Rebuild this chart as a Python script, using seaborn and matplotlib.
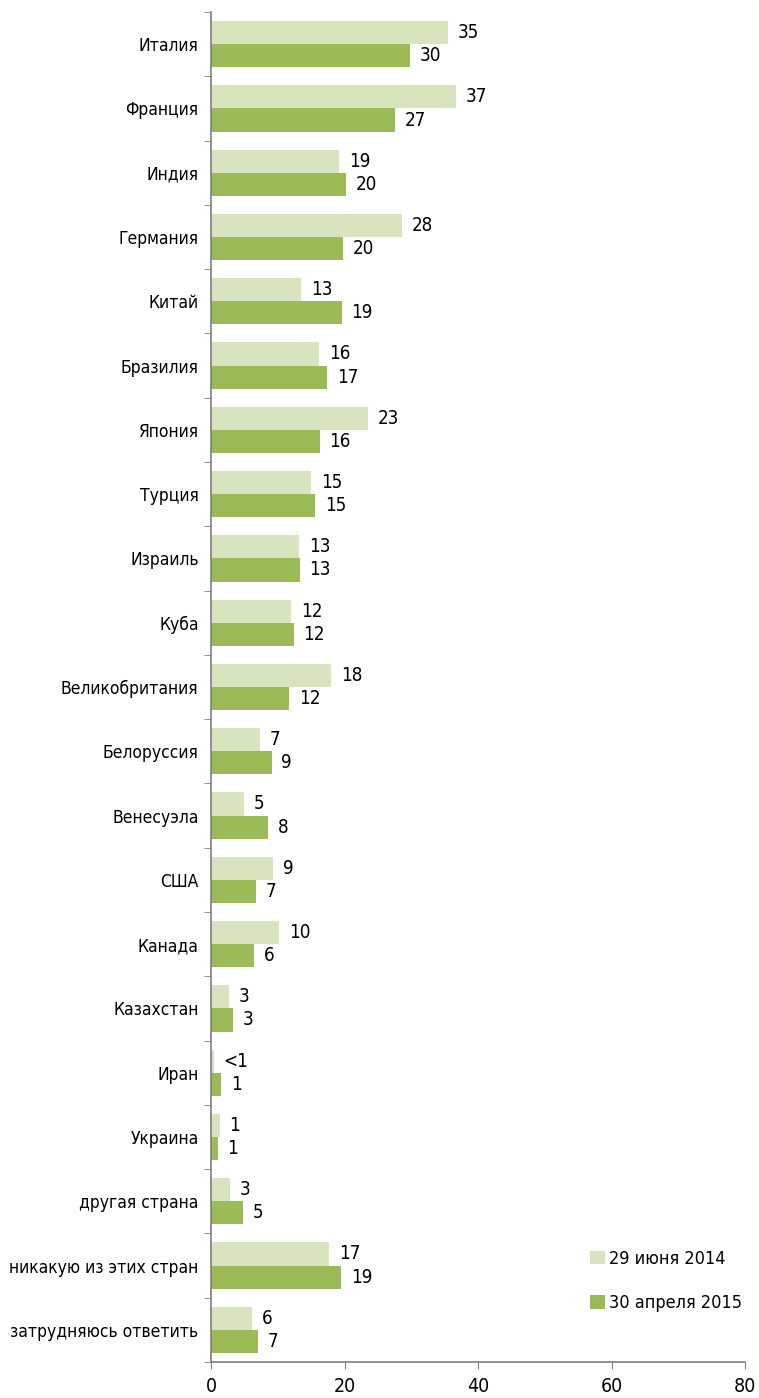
import numpy as np
import pandas as pd
import matplotlib
matplotlib.use('Agg')
import matplotlib.pyplot as plt
import seaborn as sns

countries = ['Италия', 'Франция', 'Индия', 'Германия', 'Китай', 'Бразилия', 'Япония',
             'Турция', 'Израиль', 'Куба', 'Великобритания', 'Белоруссия', 'Венесуэла',
             'США', 'Канада', 'Казахстан', 'Иран', 'Украина', 'другая страна',
             'никакую из этих стран', 'затрудняюсь ответить']
v2014 = [35.5, 36.7, 19.2, 28.6, 13.5, 16.2, 23.5, 15.0, 13.2, 12.0, 18.0,
         7.3, 4.9, 9.3, 10.2, 2.7, 0.4, 1.3, 2.8, 17.7, 6.1]
v2015 = [29.8, 27.6, 20.2, 19.8, 19.6, 17.4, 16.3, 15.6, 13.3, 12.4, 11.7,
         9.1, 8.5, 6.7, 6.4, 3.3, 1.5, 1.0, 4.8, 19.5, 7.0]
lab2014 = ['35', '37', '19', '28', '13', '16', '23', '15', '13', '12', '18',
           '7', '5', '9', '10', '3', '<1', '1', '3', '17', '6']
lab2015 = ['30', '27', '20', '20', '19', '17', '16', '15', '13', '12', '12',
           '9', '8', '7', '6', '3', '1', '1', '5', '19', '7']
series = ['29 июня 2014', '30 апреля 2015']

df = pd.DataFrame({'страна': countries * 2,
                   'значение': v2014 + v2015,
                   'дата': [series[0]] * len(countries) + [series[1]] * len(countries)})

sns.set_style('white')
plt.rcParams['font.family'] = ['DejaVu Sans']
plt.rcParams['font.stretch'] = 'condensed'
plt.rcParams['text.color'] = 'black'
plt.rcParams['xtick.color'] = 'black'
plt.rcParams['ytick.color'] = 'black'

fig = plt.figure(figsize=(7.59, 13.98), dpi=100)
ax = fig.add_axes([0.278, 0.0258, 0.7036, 0.9656])

sns.barplot(data=df, y='страна', x='значение', hue='дата', orient='h',
            palette=['#d7e4bd', '#9bbb59'], width=0.72, saturation=1,
            linewidth=0, ax=ax)

for cont, labs in zip(ax.containers, [lab2014, lab2015]):
    ax.bar_label(cont, labels=labs, padding=7, fontsize=13.5)

ax.set_xlim(0, 80)
ax.set_ylim(len(countries) - 0.5, -0.5)
ax.set_xticks([0, 20, 40, 60, 80])
ax.set_xlabel('')
ax.set_ylabel('')
ax.tick_params(axis='x', labelsize=14, length=5, color='#7f7f7f', direction='out', pad=6)
ax.tick_params(axis='y', which='major', labelsize=12.5, length=0, pad=9)
ax.set_yticks(np.arange(len(countries) + 1) - 0.5, minor=True)
ax.tick_params(axis='y', which='minor', length=5, color='#7f7f7f', direction='out')
ax.xaxis.set_ticks_position('bottom')
ax.yaxis.set_ticks_position('left')

for s in ['top', 'right']:
    ax.spines[s].set_visible(False)
for s in ['left', 'bottom']:
    ax.spines[s].set_color('#7f7f7f')
    ax.spines[s].set_linewidth(1.2)

ax.legend(loc='lower right', bbox_to_anchor=(1.025, 0.025), frameon=False, fontsize=13,
          handlelength=0.8, handleheight=0.8, handletextpad=0.25, labelspacing=1.45)

fig.savefig('out.png', dpi=100)
